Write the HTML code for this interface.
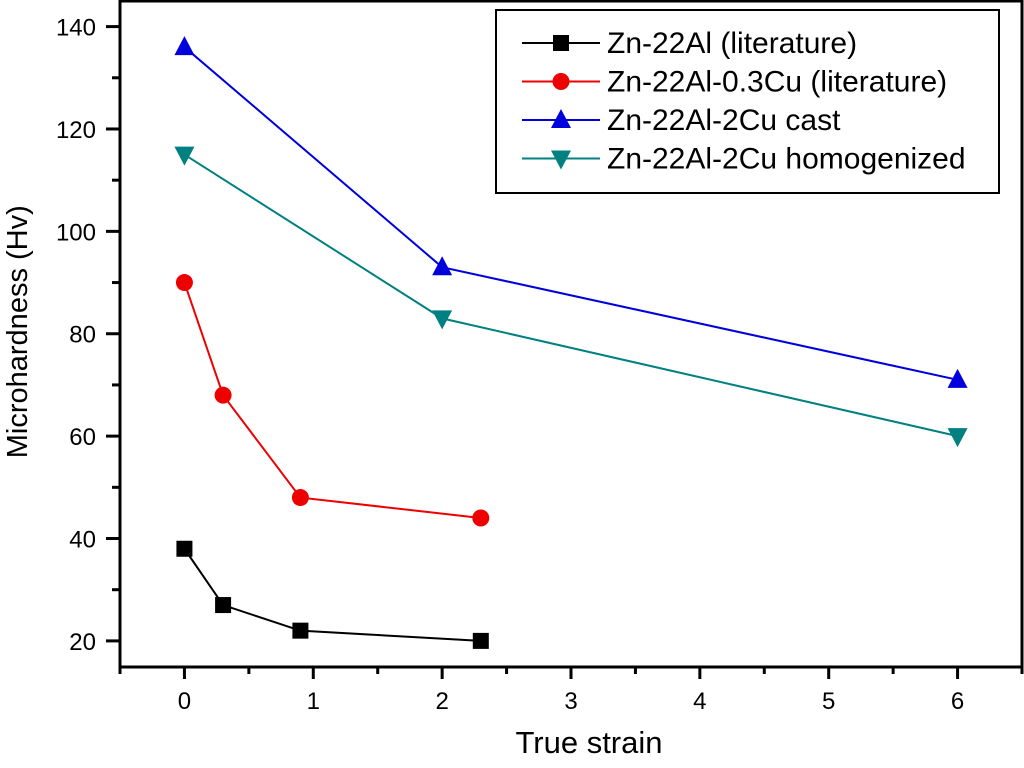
<!DOCTYPE html>
<html><head><meta charset="utf-8"><style>
body{margin:0;background:#fff}
svg{display:block;font-family:"Liberation Sans",Arial,sans-serif}
</style></head><body>
<svg id="chart" width="1024" height="768"></svg>
<script>
const seriesNames=["Zn-22Al (literature)","Zn-22Al-0.3Cu (literature)","Zn-22Al-2Cu cast","Zn-22Al-2Cu homogenized"];
const xLit=[0,0.3,0.9,2.3];
const yZn22Al=[38,27,22,20];
const yZn22Al03Cu=[90,68,48,44];
const xCu2=[0,2,6];
const yCast=[136,93,71];
const yHomog=[115,83,60];
const xTicks=[0,1,2,3,4,5,6];
const yTicks=[20,40,60,80,100,120,140];
const colors=["#000","#e00","#0000dd","#008080"];
const markers=["square","circle","up","down"];

const NS="http://www.w3.org/2000/svg";
const svg=document.getElementById('chart');
const L=120,R=1022,T=1,B=667,xMin=-0.5,xMax=6.5,yMin=14.9,yMax=145;
const sx=v=>L+(v-xMin)/(xMax-xMin)*(R-L);
const sy=v=>B-(v-yMin)/(yMax-yMin)*(B-T);
function mk(t,a,p){const e=document.createElementNS(NS,t);for(const k in a)e.setAttribute(k,a[k]);(p||svg).appendChild(e);return e;}
const ax=mk('rect',{x:L,y:T,width:R-L,height:B-T,stroke:'#000','stroke-width':3,fill:'none'});


xTicks.forEach((v,i)=>{
  const x=sx(v);
  mk('line',{x1:x,y1:B,x2:x,y2:B+12,stroke:'#000','stroke-width':3});
  const mx=sx(v-0.5);mk('line',{x1:mx,y1:B,x2:mx,y2:B+7,stroke:'#000','stroke-width':3});
  const t=mk('text',{x:x,y:B+42,'font-size':24,'text-anchor':'middle'});t.textContent=v;
  
  
});
mk('line',{x1:sx(6.5),y1:B,x2:sx(6.5),y2:B+7,stroke:'#000','stroke-width':3});
yTicks.forEach(v=>{
  const y=sy(v);
  mk('line',{x1:L,y1:y,x2:L-14,y2:y,stroke:'#000','stroke-width':3});
  const my=sy(v+10);if(v+10<yMax)mk('line',{x1:L,y1:my,x2:L-8,y2:my,stroke:'#000','stroke-width':3});
  const t=mk('text',{x:L-24,y:y+9,'font-size':24,'text-anchor':'end'});t.textContent=v;
  
  
});
const xt=mk('text',{x:589,y:753,'font-size':31,'text-anchor':'middle'});xt.textContent='True strain';


const yt=mk('text',{x:0,y:0,'font-size':29,'text-anchor':'middle',transform:`translate(27,${sy(80)-2}) rotate(-90)`});yt.textContent='Microhardness (Hv)';


function marker(type,x,y,c,g){
  if(type==='square')return mk('rect',{x:x-8,y:y-8,width:16,height:16,fill:c},g);
  if(type==='circle')return mk('circle',{cx:x,cy:y,r:8.5,fill:c},g);
  if(type==='up')return mk('polygon',{points:`${x},${y-11} ${x-10},${y+8} ${x+10},${y+8}`,fill:c},g);
  return mk('polygon',{points:`${x},${y+11} ${x-10},${y-8} ${x+10},${y-8}`,fill:c},g);
}
const data=[[xLit,yZn22Al],[xLit,yZn22Al03Cu],[xCu2,yCast],[xCu2,yHomog]];
const snames=['series-zn22al','series-zn22al-03cu','series-2cu-cast','series-2cu-homogenized'];
data.forEach(([xs,ys],i)=>{
  const g=mk('g',{});
  
  
  mk('polyline',{points:xs.map((x,j)=>sx(x)+','+sy(ys[j])).join(' '),fill:'none',stroke:colors[i],'stroke-width':2},g);
  xs.forEach((x,j)=>{const m=marker(markers[i],sx(x),sy(ys[j]),colors[i],g);
    
    });
});
const lg=mk('g',{});


mk('rect',{x:496,y:10,width:503,height:183,fill:'#fff',stroke:'#000','stroke-width':2},lg);
seriesNames.forEach((n,i)=>{
  const y=43+i*38.5;
  const e=mk('g',{},lg);
  
  
  mk('line',{x1:522,y1:y,x2:600,y2:y,stroke:colors[i],'stroke-width':2},e);
  marker(markers[i],561,y,colors[i],e);
  const t=mk('text',{x:607,y:y+10,'font-size':30},e);t.textContent=n;
});
</script>
</body></html>
